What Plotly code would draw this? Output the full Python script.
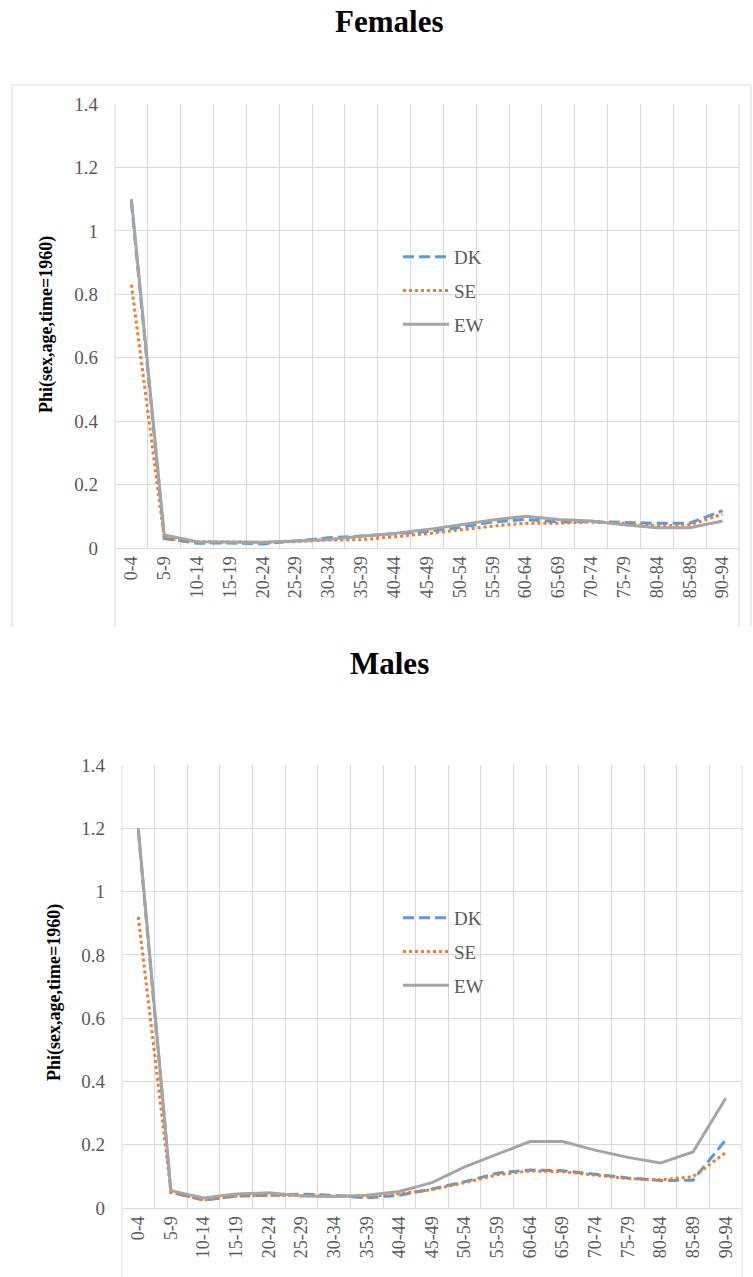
import plotly.graph_objects as go

W, H = 753, 1277

categories = ["0-4", "5-9", "10-14", "15-19", "20-24", "25-29", "30-34", "35-39",
              "40-44", "45-49", "50-54", "55-59", "60-64", "65-69", "70-74",
              "75-79", "80-84", "85-89", "90-94"]

fem_dk = [1.09, 0.030, 0.015, 0.016, 0.013, 0.022, 0.032, 0.038, 0.045, 0.052,
          0.065, 0.082, 0.090, 0.082, 0.083, 0.080, 0.078, 0.078, 0.118]
fem_se = [0.83, 0.030, 0.020, 0.018, 0.018, 0.020, 0.025, 0.026, 0.035, 0.045,
          0.057, 0.069, 0.078, 0.078, 0.082, 0.078, 0.070, 0.073, 0.107]
fem_ew = [1.10, 0.041, 0.020, 0.018, 0.018, 0.022, 0.027, 0.037, 0.046, 0.058,
          0.073, 0.088, 0.100, 0.090, 0.085, 0.073, 0.064, 0.064, 0.085]

male_dk = [1.19, 0.050, 0.025, 0.038, 0.040, 0.044, 0.040, 0.032, 0.040, 0.060,
           0.083, 0.110, 0.120, 0.118, 0.107, 0.095, 0.087, 0.088, 0.215]
male_se = [0.92, 0.050, 0.025, 0.038, 0.040, 0.040, 0.038, 0.035, 0.045, 0.058,
           0.080, 0.105, 0.117, 0.115, 0.105, 0.093, 0.089, 0.099, 0.175]
male_ew = [1.20, 0.055, 0.032, 0.044, 0.048, 0.038, 0.036, 0.040, 0.052, 0.080,
           0.130, 0.170, 0.210, 0.210, 0.183, 0.160, 0.142, 0.177, 0.347]

series_names = ["DK", "SE", "EW"]
series_colors = ["#5B9BD5", "#ED7D31", "#A5A5A5"]
series_dash = ["11px,5px", "3px,3px", "solid"]

panel_titles = ["Females", "Males"]
y_title = "Phi(sex,age,time=1960)"

SERIF = "Liberation Serif, Times New Roman, serif"
GRID = "#D9D9D9"
TXT = "#595959"


def px(x):
    return x / W


def py(y):
    return 1 - y / H


fig = go.Figure()

panels = [
    dict(data=[fem_dk, fem_se, fem_ew], xa="x", ya="y", legend="legend"),
    dict(data=[male_dk, male_se, male_ew], xa="x2", ya="y2", legend="legend2"),
]

for p in panels:
    for name, vals, col, dash in zip(series_names, p["data"], series_colors, series_dash):
        fig.add_trace(go.Scatter(
            x=categories, y=vals, mode="lines", name=name,
            line=dict(color=col, width=3, dash=dash),
            xaxis=p["xa"], yaxis=p["ya"], legend=p["legend"],
            legendgroup=p["legend"] + name,
        ))

# plot-area pixel boxes: (left, right, top, bottom)
boxes = [(115, 739, 104, 548), (122, 742, 765, 1208)]

axis_common_x = dict(
    type="category", range=[-0.5, 18.5], tickson="boundaries", showgrid=True,
    gridcolor=GRID, gridwidth=1, showline=True, linecolor=GRID, linewidth=1,
    ticks="", tickangle=-90, tickfont=dict(family=SERIF, size=18, color=TXT),
    zeroline=False, fixedrange=True,
)
axis_common_y = dict(
    range=[0, 1.4], dtick=0.2, tick0=0, showgrid=True, gridcolor=GRID, gridwidth=1,
    showline=False, zeroline=False, ticks="", ticklabelstandoff=16,
    tickfont=dict(family=SERIF, size=19, color=TXT), fixedrange=True,
)

(l1, r1, t1, b1), (l2, r2, t2, b2) = boxes
fig.update_layout(
    xaxis=dict(domain=[px(l1), px(r1)], anchor="y", **axis_common_x),
    yaxis=dict(domain=[py(b1), py(t1)], anchor="x", **axis_common_y),
    xaxis2=dict(domain=[px(l2), px(r2)], anchor="y2", **axis_common_x),
    yaxis2=dict(domain=[py(b2), py(t2)], anchor="x2", **axis_common_y),
)

legend_common = dict(
    font=dict(family=SERIF, size=19, color=TXT), bgcolor="rgba(0,0,0,0)",
    borderwidth=0, itemwidth=46, tracegroupgap=6, xanchor="left", yanchor="top",
    itemclick=False, itemdoubleclick=False,
)
fig.update_layout(
    legend=dict(x=px(398), y=py(238), **legend_common),
    legend2=dict(x=px(398), y=py(899), **legend_common),
)

shapes = []
line_style = dict(color=GRID, width=1)
# outer chart frame of the top panel
shapes.append(dict(type="line", xref="paper", yref="paper", x0=px(12), x1=px(12), y0=py(85), y1=py(627), line=line_style))
shapes.append(dict(type="line", xref="paper", yref="paper", x0=px(12), x1=px(751), y0=py(85), y1=py(85), line=line_style))
shapes.append(dict(type="line", xref="paper", yref="paper", x0=px(751), x1=px(751), y0=py(85), y1=py(627), line=line_style))
# plot-area side lines extending below the axis
for (l, r, t, b), bottom in zip(boxes, [627, 1277]):
    for xx in (l, r):
        shapes.append(dict(type="line", xref="paper", yref="paper", x0=px(xx), x1=px(xx), y0=py(t), y1=py(bottom), line=line_style))
fig.update_layout(shapes=shapes)

annotations = []
for title, ty in zip(panel_titles, [22, 663]):
    annotations.append(dict(
        text="<b>%s</b>" % title, xref="paper", yref="paper", x=px(389), y=py(ty),
        xanchor="center", yanchor="middle", showarrow=False,
        font=dict(family=SERIF, size=31, color="#000000"),
    ))
for tx, ty in [(47, 325), (54, 993)]:
    annotations.append(dict(
        text="<b>%s</b>" % y_title, xref="paper", yref="paper", x=px(tx), y=py(ty),
        xanchor="center", yanchor="middle", showarrow=False, textangle=-90,
        font=dict(family=SERIF, size=18, color="#000000"),
    ))
fig.update_layout(annotations=annotations)

fig.update_layout(
    width=W, height=H, margin=dict(l=0, r=0, t=0, b=0, autoexpand=False),
    paper_bgcolor="white", plot_bgcolor="white", showlegend=True,
)

fig.write_html("out.html", config={"displayModeBar": False})
